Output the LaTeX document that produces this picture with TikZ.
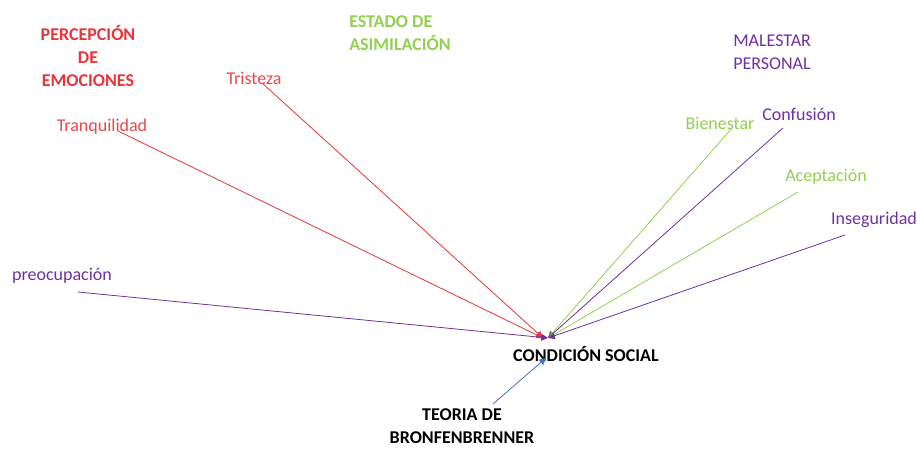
\documentclass[tikz,border=0pt]{standalone}
\usepackage{fontspec}
\setmainfont{Carlito}
\usetikzlibrary{arrows.meta}
\definecolor{cred}{RGB}{232,52,58}
\definecolor{lred}{RGB}{235,70,75}
\definecolor{cgreen}{RGB}{146,208,80}
\definecolor{cpurple}{RGB}{112,48,160}
\definecolor{cblue}{RGB}{68,114,196}
\tikzset{
  lbl/.style={inner sep=0pt, font=\fontsize{13.5}{16.9}\selectfont},
  ttl/.style={inner sep=0pt, align=left, font=\fontsize{13.5}{16.9}\selectfont\bfseries},
  conn/.style={-{Triangle[length=5pt,width=5pt]}, line width=0.6pt},
}
\begin{document}
\begin{tikzpicture}[x=0.75pt,y=-0.75pt]
\useasboundingbox (0,0) rectangle (917,449);
% titles
\node[ttl, align=center, text=cred] (t1) at (88,56) {PERCEPCIÓN\\DE\\EMOCIONES};
\node[ttl, anchor=west, text=cgreen] (t2) at (349,33) {ESTADO DE\\ASIMILACIÓN};
\node[ttl, anchor=west, text=cpurple, font=\fontsize{13.5}{16.9}\selectfont] (t3) at (733,52) {MALESTAR\\PERSONAL};
% labels
\node[lbl, text=lred] (tri) at (254,78) {Tristeza};
\node[lbl, text=lred] (tra) at (102,127) {Tranquilidad};
\node[lbl, text=cpurple] (pre) at (62,276) {preocupación};
\node[lbl, text=cgreen] (bie) at (720,123) {Bienestar};
\node[lbl, text=cpurple] (con) at (799,114) {Confusión};
\node[lbl, text=cgreen] (ace) at (826,177) {Aceptación};
\node[lbl, text=cpurple] (ins) at (874,220) {Inseguridad};
\node[ttl, text=black] (cs) at (586,354) {CONDICIÓN SOCIAL};
\node[ttl, align=center, text=black] (tb) at (462,426) {TEORIA DE\\BRONFENBRENNER};
% connector endpoints
\coordinate (ra) at (543,338);
\coordinate (pa) at (548,338);
\coordinate (ba) at (546,358);
\coordinate (s1) at (262,83);
\coordinate (s2) at (118,131);
\coordinate (s3) at (78,292);
\coordinate (s4) at (732,128);
\coordinate (s5) at (783,128);
\coordinate (s6) at (798,192);
\coordinate (s7) at (845,235);
\coordinate (s8) at (493,404);
\draw[conn, cred] (s1) -- (ra);
\draw[conn, cred] (s2) -- (ra);
\draw[conn, cpurple] (s3) -- (pa);
\draw[conn, cgreen] (s4) -- (pa);
\draw[conn, cpurple] (s5) -- (pa);
\draw[conn, cgreen] (s6) -- (pa);
\draw[conn, cpurple] (s7) -- (pa);
\draw[conn, cblue] (s8) -- (ba);
\end{tikzpicture}
\end{document}
